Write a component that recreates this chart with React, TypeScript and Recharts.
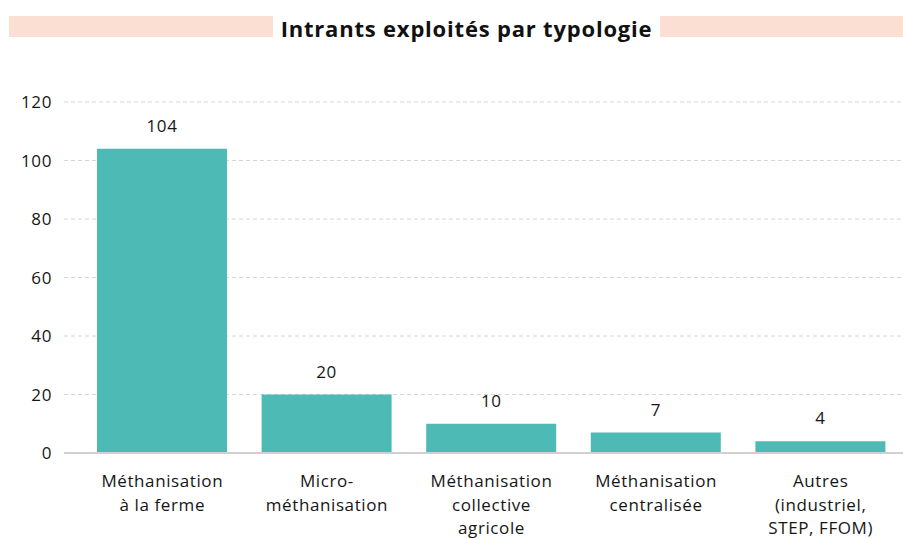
import React from 'react'
import { BarChart, Bar, XAxis, YAxis, CartesianGrid, LabelList } from 'recharts'

const categories = [
    'Méthanisation\nà la ferme',
    'Micro-\nméthanisation',
    'Méthanisation\ncollective\nagricole',
    'Méthanisation\ncentralisée',
    'Autres\n(industriel,\nSTEP, FFOM)',
]
const values = [104, 20, 10, 7, 4]
const yTicks = [0, 20, 40, 60, 80, 100, 120]

const data = categories.map((name, i) => ({ name, value: values[i] }))

const FONT = '"Open Sans", "Noto Sans", sans-serif'
const TEXT = '#161616'
const SPACING = '0.6px'

const CategoryTick = ({ x, y, payload }: any) => {
    const lines = String(payload.value).split('\n')
    return (
        <text x={x} y={y} textAnchor="middle" fill={TEXT} fontSize={17} fontFamily={FONT} letterSpacing={SPACING}>
            {lines.map((line, i) => (
                <tspan key={i} x={x} dy={i === 0 ? 26 : 23.5}>{line}</tspan>
            ))}
        </text>
    )
}

export default function App() {
    return (
        <div style={{ position: 'absolute', left: 0, top: 0, width: 903, height: 538, background: '#fff' }}>
            {/* title band */}
            <div style={{ position: 'absolute', left: 9, top: 16, width: 894, height: 21, background: '#fbdfd2' }} />
            <div
                style={{
                    position: 'absolute', left: 273, top: 14, width: 387, height: 27, background: '#fff',
                    display: 'flex', alignItems: 'center', justifyContent: 'center',
                    fontFamily: '"Open Sans", sans-serif', fontWeight: 700, fontSize: 22, color: '#111',
                    letterSpacing: '0.8px',
                }}
            >
                Intrants exploités par typologie
            </div>
            <BarChart
                width={903}
                height={538}
                data={data}
                margin={{ top: 102, right: 0, bottom: 0, left: 0 }}
            >
                <CartesianGrid vertical={false} stroke="#d6d6d6" strokeDasharray="4 3" />
                <XAxis
                    dataKey="name"
                    axisLine={{ stroke: '#d0d0d0', strokeWidth: 2 }}
                    tickLine={false}
                    height={85}
                    interval={0}
                    padding={{ left: 16, right: 0 }}
                    tick={<CategoryTick />}
                />
                <YAxis
                    width={64}
                    domain={[0, 120]}
                    ticks={yTicks}
                    axisLine={false}
                    tickLine={false}
                    tickMargin={6}
                    tick={{ fill: TEXT, fontSize: 17, fontFamily: FONT, letterSpacing: SPACING }}
                />
                <Bar dataKey="value" fill="#4dbab6" barSize={130} isAnimationActive={false}>
                    <LabelList
                        dataKey="value"
                        position="top"
                        offset={17}
                        fill={TEXT}
                        fontSize={17}
                        fontFamily={FONT}
                        letterSpacing={SPACING}
                    />
                </Bar>
            </BarChart>
        </div>
    )
}
